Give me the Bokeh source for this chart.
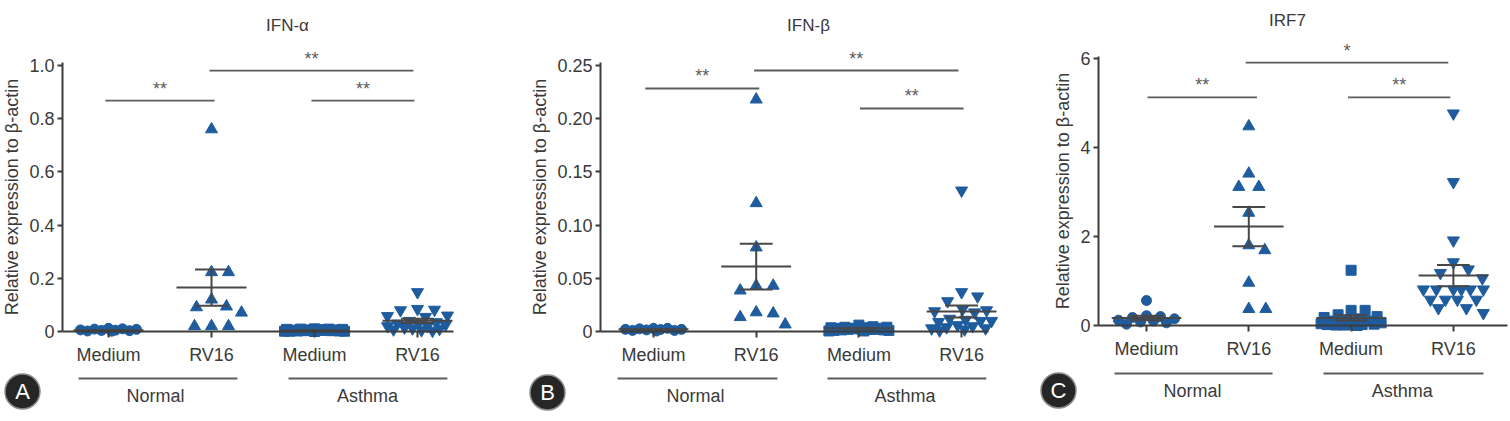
import math
from bokeh.plotting import figure
from bokeh.layouts import row
from bokeh.models import FixedTicker, NumeralTickFormatter
from bokeh.core.properties import value
from bokeh.embed import file_html
from bokeh.resources import INLINE

# ---------------- data ----------------
CATEGORIES = ["Medium", "RV16", "Medium", "RV16"]
GROUPS = ["Normal", "Asthma"]
TITLES = ["IFN-α", "IFN-β", "IRF7"]
PANEL_LETTERS = ["A", "B", "C"]
YLABEL = "Relative expression to β-actin"

# Panel A: IFN-alpha
A_NORMAL_MEDIUM = [0.012, 0.010, 0.009, 0.008, 0.006, 0.005, 0.004, 0.003, 0.002, 0.001]
A_NORMAL_RV16 = [0.76, 0.223, 0.223, 0.12, 0.094, 0.091, 0.071, 0.02, 0.02, 0.02]
A_ASTHMA_MEDIUM = [0.010, 0.009, 0.009, 0.008, 0.008, 0.007, 0.006, 0.006, 0.005, 0.005,
                   0.004, 0.004, 0.003, 0.003, 0.002, 0.002, 0.001, 0.001, 0.001, 0.0]
A_ASTHMA_RV16 = [0.148, 0.085, 0.082, 0.080, 0.060, 0.058, 0.055, 0.040, 0.035, 0.030,
                 0.030, 0.025, 0.020, 0.020, 0.015, 0.012, 0.010, 0.008, 0.005, 0.003]
A_MEAN = [0.005, 0.165, 0.004, 0.040]
A_SEM = [0.001, 0.068, 0.001, 0.008]
A_YTICKS = [0, 0.2, 0.4, 0.6, 0.8, 1.0]

# Panel B: IFN-beta
B_NORMAL_MEDIUM = [0.003, 0.003, 0.0025, 0.002, 0.002, 0.0018, 0.0015, 0.001, 0.001, 0.0005]
B_NORMAL_RV16 = [0.218, 0.1206, 0.079, 0.043, 0.043, 0.0385, 0.018, 0.017, 0.0135, 0.0066]
B_ASTHMA_MEDIUM = [0.006, 0.0045, 0.004, 0.004, 0.0035, 0.0035, 0.003, 0.003, 0.003, 0.0025,
                   0.0025, 0.002, 0.002, 0.002, 0.0015, 0.0015, 0.001, 0.001, 0.0005, 0.0005]
B_ASTHMA_RV16 = [0.1325, 0.037, 0.033, 0.0285, 0.021, 0.020, 0.019, 0.018, 0.012, 0.011,
                 0.010, 0.010, 0.009, 0.006, 0.005, 0.004, 0.003, 0.003, 0.002, 0.001]
B_MEAN = [0.002, 0.061, 0.003, 0.0188]
B_SEM = [0.0003, 0.0215, 0.0004, 0.0056]
B_YTICKS = [0, 0.05, 0.10, 0.15, 0.20, 0.25]

# Panel C: IRF7
C_NORMAL_MEDIUM = [0.56, 0.22, 0.20, 0.18, 0.15, 0.12, 0.10, 0.08, 0.06, 0.03]
C_NORMAL_RV16 = [4.47, 3.41, 3.11, 3.11, 2.53, 1.80, 1.69, 0.96, 0.37, 0.37]
C_ASTHMA_MEDIUM = [1.24, 0.34, 0.34, 0.24, 0.20, 0.18, 0.15, 0.12, 0.10, 0.10,
                   0.08, 0.06, 0.05, 0.04, 0.03, 0.02, 0.02, 0.01, 0.01, 0.0]
C_ASTHMA_RV16 = [4.76, 3.22, 1.91, 1.42, 1.26, 1.18, 1.06, 0.81, 0.81, 0.81,
                 0.81, 0.81, 0.81, 0.58, 0.58, 0.58, 0.58, 0.39, 0.39, 0.28]
C_MEAN = [0.17, 2.22, 0.17, 1.12]
C_SEM = [0.05, 0.44, 0.06, 0.24]
C_YTICKS = [0, 2, 4, 6]

# significance comparisons: (from category, to category, height in data units, label)
A_SIG = [(0.97, 2.03, 0.868, "**"), (1.98, 3.96, 0.981, "**"), (2.97, 3.97, 0.868, "**")]
B_SIG = [(0.92, 2.03, 0.2284, "**"), (1.98, 3.97, 0.2453, "**"), (3.01, 4.02, 0.2096, "**")]
C_SIG = [(1.01, 2.08, 5.12, "**"), (1.97, 3.95, 5.90, "*"), (2.97, 3.97, 5.12, "**")]

# ---------------- styles ----------------
FONT = "Liberation Sans"
BLUE = "#1f5c9e"
AXIS = "#3d3d3d"
TEXT = "#3a3a3a"
LINE = "#5c5c5c"
ERR = "#474747"
MARKERS = ["circle", "triangle", "square", "inverted_triangle"]
MSIZE = [10, 12, 10, 12]

# panel layouts (pixels inside each panel)
LAYOUT = [
    dict(W=510, x1=108, dx=103.0, y0=331, pxu=266.0, yax=62, xend=453, ytop=62,
         title=(287, 25), badge=(22, 391), gline=378, gtext=395,
         gx=[(0.709, 2.252, 1.456), (2.748, 4.29, 3.515)], fmt="0.0"),
    dict(W=510, x1=143, dx=102.7, y0=331, pxu=1064.0, yax=90, xend=478, ytop=62,
         title=(298, 25), badge=(37, 392), gline=378, gtext=395,
         gx=[(0.65, 2.207, 1.41), (2.694, 4.24, 3.45)], fmt="0.00"),
    dict(W=490, x1=126, dx=102.3, y0=325, pxu=44.55, yax=78, xend=487, ytop=56,
         title=(267, 20), badge=(38, 390), gline=373, gtext=390,
         gx=[(0.687, 2.232, 1.45), (2.73, 4.294, 3.50)], fmt=None),
]
H = 421


def swarm(vals, pxu_y, dx, dmin, half_width=30):
    """Beeswarm offsets (in category units) computed in pixel space."""
    cands = [0] + [s * k for k in range(1, half_width + 1) for s in (1, -1)]
    placed = []
    offs = []
    for v in vals:
        y = v * pxu_y
        chosen = None
        best_c, best_d = 0, -1.0
        for c in cands:
            md = min((math.hypot(c - px, y - py) for px, py in placed), default=1e9)
            if md >= dmin:
                chosen = c
                break
            if md > best_d:
                best_d, best_c = md, c
        if chosen is None:
            chosen = best_c
        placed.append((chosen, y))
        offs.append(chosen / dx)
    return offs


def make_panel(idx, groups, means, sems, yticks, sig):
    L = LAYOUT[idx]
    W, x1, dx, y0, pxu = L["W"], L["x1"], L["dx"], L["y0"], L["pxu"]
    px2x = lambda px: 1 + (px - x1) / dx
    py2y = lambda py: (y0 - py) / pxu

    p = figure(width=W, height=H, x_range=(px2x(0), px2x(W)), y_range=(py2y(H), py2y(0)),
               output_backend="svg", toolbar_location=None, min_border=0,
               background_fill_color="white", border_fill_color="white")
    p.outline_line_color = None
    p.xgrid.visible = False
    p.ygrid.visible = False

    # x axis (fixed at y = 0)
    xa = p.xaxis[0]
    xa.fixed_location = 0
    xa.ticker = FixedTicker(ticks=[1, 2, 3, 4])
    xa.major_label_overrides = {i + 1: c for i, c in enumerate(CATEGORIES)}
    xa.bounds = (px2x(L["yax"]), px2x(L["xend"]))
    xa.axis_line_color = AXIS
    xa.axis_line_width = 2
    xa.major_tick_line_color = AXIS
    xa.major_tick_line_width = 2
    xa.major_tick_in = 0
    xa.major_tick_out = 6
    xa.minor_tick_line_color = None
    xa.major_label_standoff = 7
    xa.major_label_text_font = FONT
    xa.major_label_text_font_size = "18px"
    xa.major_label_text_color = TEXT

    # y axis (fixed at left)
    ya = p.yaxis[0]
    ya.fixed_location = px2x(L["yax"])
    ya.ticker = FixedTicker(ticks=yticks)
    ya.bounds = (0, py2y(L["ytop"]))
    if L["fmt"]:
        ya.formatter = NumeralTickFormatter(format=L["fmt"])
        ya.major_label_overrides = {0: "0"}
    ya.axis_line_color = AXIS
    ya.axis_line_width = 2
    ya.major_tick_line_color = AXIS
    ya.major_tick_line_width = 2
    ya.major_tick_in = 0
    ya.major_tick_out = 5
    ya.minor_tick_line_color = None
    ya.major_label_standoff = 3
    ya.major_label_text_font = FONT
    ya.major_label_text_font_size = "18px"
    ya.major_label_text_color = TEXT
    ya.axis_label = YLABEL
    ya.axis_label_text_font = FONT
    ya.axis_label_text_font_style = "normal"
    ya.axis_label_text_font_size = "18px"
    ya.axis_label_text_color = TEXT
    ya.axis_label_standoff = 4

    # points
    for g, vals in enumerate(groups):
        offs = swarm(vals, pxu, dx, MSIZE[g] * 1.35)
        xs = [g + 1 + o for o in offs]
        p.scatter(xs, vals, marker=MARKERS[g], size=MSIZE[g], fill_color=BLUE,
                  line_color=BLUE, line_width=1)

    # mean +/- SEM
    cats = [1, 2, 3, 4]
    p.segment(x0=[c - 0.34 for c in cats], x1=[c + 0.34 for c in cats], y0=means, y1=means,
              line_color=ERR, line_width=2)
    top = [m + s for m, s in zip(means, sems)]
    bot = [m - s for m, s in zip(means, sems)]
    p.segment(x0=cats, x1=cats, y0=bot, y1=top, line_color=ERR, line_width=2)
    p.segment(x0=[c - 0.16 for c in cats], x1=[c + 0.16 for c in cats], y0=top, y1=top,
              line_color=ERR, line_width=2)
    p.segment(x0=[c - 0.16 for c in cats], x1=[c + 0.16 for c in cats], y0=bot, y1=bot,
              line_color=ERR, line_width=2)

    # significance bars
    p.segment(x0=[s[0] for s in sig], x1=[s[1] for s in sig], y0=[s[2] for s in sig],
              y1=[s[2] for s in sig], line_color=LINE, line_width=1.8)
    p.text(x=[(s[0] + s[1]) / 2 for s in sig], y=[s[2] + 2 / pxu for s in sig],
           text=[s[3] for s in sig], text_font=value(FONT), text_font_size="18px",
           text_color=LINE, text_align="center", text_baseline="bottom")

    # group underlines and labels
    p.segment(x0=[g[0] for g in L["gx"]], x1=[g[1] for g in L["gx"]],
              y0=[py2y(L["gline"])] * 2, y1=[py2y(L["gline"])] * 2,
              line_color=LINE, line_width=1.8)
    p.text(x=[g[2] for g in L["gx"]], y=[py2y(L["gtext"])] * 2, text=GROUPS,
           text_font=value(FONT), text_font_size="18px", text_color=TEXT,
           text_align="center", text_baseline="middle")

    # title
    p.text(x=[px2x(L["title"][0])], y=[py2y(L["title"][1])], text=[TITLES[idx]],
           text_font=value(FONT), text_font_size="17px", text_color=TEXT,
           text_align="center", text_baseline="middle")

    # panel badge
    bx, by = px2x(L["badge"][0]), py2y(L["badge"][1])
    p.scatter([bx], [by], marker="circle", size=35, fill_color="#262626",
              line_color="#8a8a8a", line_width=1.5)
    p.text(x=[bx], y=[by], text=[PANEL_LETTERS[idx]], text_font=value(FONT),
           text_font_size="22px", text_color="white", text_align="center",
           text_baseline="middle")
    return p


pA = make_panel(0, [A_NORMAL_MEDIUM, A_NORMAL_RV16, A_ASTHMA_MEDIUM, A_ASTHMA_RV16],
                A_MEAN, A_SEM, A_YTICKS, A_SIG)
pB = make_panel(1, [B_NORMAL_MEDIUM, B_NORMAL_RV16, B_ASTHMA_MEDIUM, B_ASTHMA_RV16],
                B_MEAN, B_SEM, B_YTICKS, B_SIG)
pC = make_panel(2, [C_NORMAL_MEDIUM, C_NORMAL_RV16, C_ASTHMA_MEDIUM, C_ASTHMA_RV16],
                C_MEAN, C_SEM, C_YTICKS, C_SIG)

layout = row(pA, pB, pC, spacing=0)
open("out.html", "w").write(file_html(layout, INLINE))
